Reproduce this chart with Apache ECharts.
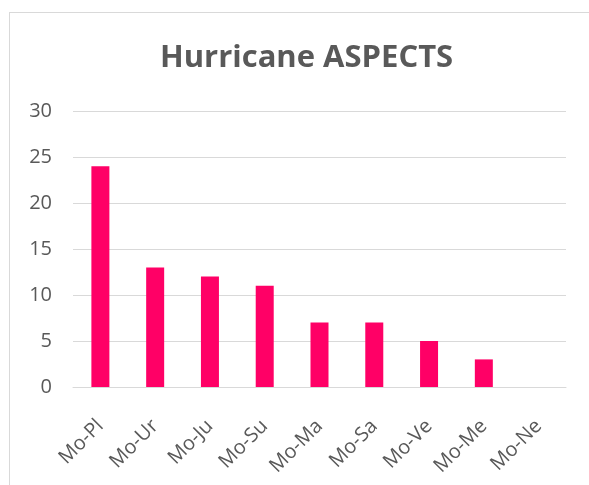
<!DOCTYPE html>
<html>
<head>
<meta charset="utf-8">
<title>Hurricane ASPECTS</title>
<script src="https://cdn.jsdelivr.net/npm/echarts@6/dist/echarts.min.js"></script>
<style>
  body { margin: 0; background: #fff; }
  #frame { position: absolute; left: 9px; top: 12px; width: 600px; height: 500px; border: 1px solid #d9d9d9; box-sizing: border-box; }
  #main { position: absolute; left: 0; top: 0; width: 589px; height: 485px; }
</style>
</head>
<body>
<div id="frame"></div>
<div id="main"></div>
<script type="text/javascript">
    // 数据
    var categories = ['Mo-Pl', 'Mo-Ur', 'Mo-Ju', 'Mo-Su', 'Mo-Ma', 'Mo-Sa', 'Mo-Ve', 'Mo-Me', 'Mo-Ne'];
    var counts = [24, 13, 12, 11, 7, 7, 5, 3, 0];

    var myChart = echarts.init(document.getElementById('main'));

    var option = {
        title: {
            text: 'Hurricane ASPECTS',
            left: 155,
            top: 38,
            textStyle: {
                fontFamily: 'Open Sans',
                fontWeight: 'bold',
                fontSize: 31,
                color: '#595959'
            }
        },
        grid: {
            left: 73,
            right: 23,
            top: 111,
            bottom: 98
        },
        xAxis: {
            type: 'category',
            data: categories,
            axisTick: { show: false },
            axisLine: { lineStyle: { color: '#d9d9d9', width: 1 } },
            axisLabel: {
                rotate: 45,
                interval: 0,
                margin: 36,
                color: '#595959',
                fontSize: 20,
                fontFamily: 'Open Sans'
            }
        },
        yAxis: {
            type: 'value',
            min: 0,
            max: 30,
            interval: 5,
            axisLine: { show: false },
            axisTick: { show: false },
            splitLine: { lineStyle: { color: '#d9d9d9', width: 1 } },
            axisLabel: {
                margin: 21,
                color: '#595959',
                fontSize: 20,
                fontFamily: 'Open Sans'
            }
        },
        series: [{
            type: 'bar',
            data: counts,
            barWidth: 18,
            itemStyle: { color: '#ff0066' },
            animation: false
        }]
    };

    myChart.setOption(option);
</script>
</body>
</html>
